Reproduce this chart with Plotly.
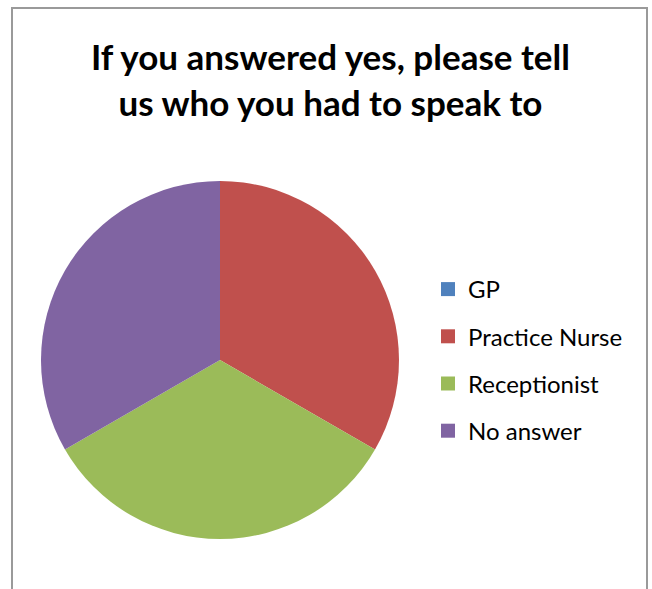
import plotly.graph_objects as go

# Survey responses: who the respondent had to speak to
labels = ["GP", "Practice Nurse", "Receptionist", "No answer"]
counts = [0, 1, 1, 1]
colors = ["#4F81BD", "#C0504D", "#9BBB59", "#8064A2"]

title_lines = ["If you answered yes, please tell", "us who you had to speak to"]

W, H = 652, 589
FONT = "Lato"

fig = go.Figure()

fig.add_trace(go.Pie(
    labels=labels,
    values=counts,
    marker=dict(colors=colors, line=dict(width=0)),
    sort=False,
    direction="clockwise",
    rotation=0,
    textinfo="none",
    hoverinfo="label+value+percent",
    showlegend=False,
    domain=dict(x=[41 / W, 399 / W], y=[1 - 539 / H, 1 - 181 / H]),
))

# Legend entries: one square marker per category, each in its own group
for lab, col in zip(labels, colors):
    fig.add_trace(go.Scatter(
        x=[None], y=[None],
        mode="markers",
        name=lab,
        legendgroup=lab,
        marker=dict(symbol="square", size=14, color=col),
        showlegend=True,
        hoverinfo="skip",
    ))

fig.update_layout(
    width=W,
    height=H,
    margin=dict(l=0, r=0, t=0, b=0),
    paper_bgcolor="white",
    plot_bgcolor="white",
    xaxis=dict(visible=False),
    yaxis=dict(visible=False),
    annotations=[
        dict(
            text="<br>".join(title_lines),
            xref="paper", yref="paper",
            x=331 / W, xanchor="center",
            y=1 - 79 / H, yanchor="middle",
            showarrow=False,
            font=dict(family=FONT, size=35, color="black", weight="bold"),
        )
    ],
    legend=dict(
        x=428 / W,
        xanchor="left",
        y=1 - 267 / H,
        yanchor="top",
        font=dict(family=FONT, size=24, color="black"),
        tracegroupgap=13,
        itemsizing="trace",
        bgcolor="rgba(0,0,0,0)",
    ),
    shapes=[
        dict(
            type="rect", xref="paper", yref="paper",
            x0=12 / W, x1=647 / W, y0=-0.05, y1=1 - 8 / H,
            line=dict(color="#9a9a9a", width=2),
            fillcolor="rgba(0,0,0,0)",
            layer="below",
        )
    ],
)

fig.write_html("out.html")
